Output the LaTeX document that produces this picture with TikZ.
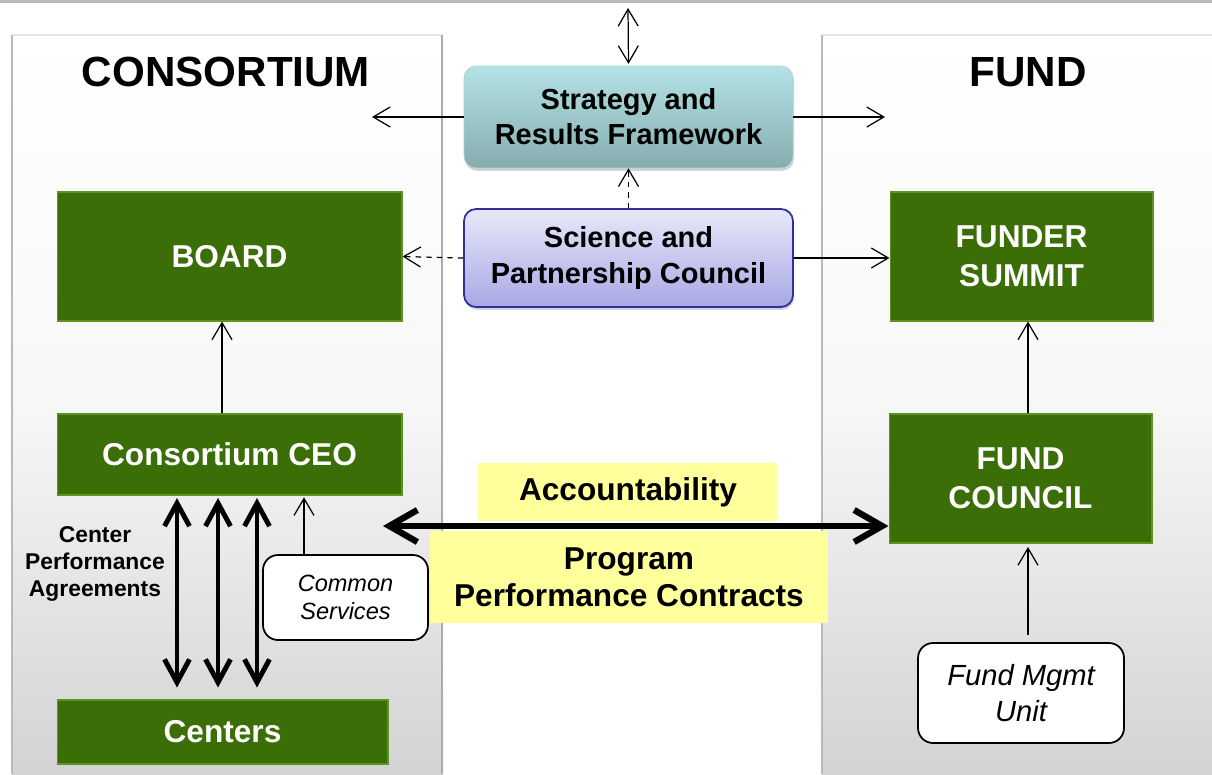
\documentclass[tikz,border=0pt]{standalone}
\usepackage{fontspec}
\setmainfont{Liberation Sans}
\usepackage{tikz}
\usetikzlibrary{arrows.meta,shadows}

\definecolor{boxgreen}{HTML}{3B6E07}
\definecolor{edgegreen}{HTML}{5C9422}
\definecolor{colgray}{HTML}{D3D3D3}
\definecolor{tealtop}{HTML}{B4E2E6}
\definecolor{tealbot}{HTML}{86ADAE}
\definecolor{lavtop}{HTML}{E8E8FA}
\definecolor{lavbot}{HTML}{A8A8E4}
\definecolor{lavedge}{HTML}{30309A}
\definecolor{notepad}{HTML}{FFFF9C}

\begin{document}
\begin{tikzpicture}[x=0.02cm,y=-0.02cm,
        >={Straight Barb[length=3.4mm,width=4mm]},
        greenbox/.style={fill=boxgreen,draw=edgegreen,line width=0.6pt,text=white,
            font=\bfseries\fontsize{18}{22}\selectfont,align=center,inner sep=0pt},
        colorbox/.style={rounded corners=0.24cm,align=center,inner sep=0pt,
            font=\bfseries\fontsize{16.5}{20}\selectfont,
            drop shadow={shadow xshift=0.6pt,shadow yshift=-1.6pt,fill=gray!70}},
        notebox/.style={fill=white,draw=black,line width=1pt,rounded corners=0.3cm,
            align=center,inner sep=0pt},
        yellowbox/.style={fill=notepad,align=center,inner sep=0pt,
            font=\bfseries\fontsize{18}{21}\selectfont},
        headline/.style={font=\bfseries\fontsize{24}{28}\selectfont},
        linkarrow/.style={line width=0.7pt},
        fatarrow/.style={line width=2.8pt,<->,>={Straight Barb[length=4.6mm,width=5mm]}},
        widearrow/.style={line width=3.6pt,<->,>={Straight Barb[length=5.6mm,width=6.4mm]}}]
    \useasboundingbox (0,0) rectangle (1212,774);

    % columns
    \fill[gray!55] (0,0) rectangle (1212,3);
    \shade[top color=white,bottom color=colgray,middle color=gray!6] (12,35) rectangle (443,774);
    \shade[top color=white,bottom color=colgray,middle color=gray!6] (822,35) rectangle (1212,774);
    \draw[gray!20,line width=1pt] (12,35) -- (443,35);
    \draw[gray!20,line width=1pt] (822,35) -- (1212,35);
    \draw[gray!55,line width=1pt] (12,35) -- (12,774);
    \draw[gray!65,line width=1.4pt] (442,35) -- (442,774);
    \draw[gray!55,line width=1pt] (822,35) -- (822,774);

    \node[headline] (conhead) at (226,72) {CONSORTIUM};
    \node[headline] (fundhead) at (1028,72) {FUND};

    % middle
    \node[colorbox,top color=tealtop,bottom color=tealbot,draw=tealtop!85!gray,
        minimum width=6.58cm,minimum height=2.04cm] (sf) at (628.5,117) {Strategy and\\Results Framework};
    \node[colorbox,top color=lavtop,bottom color=lavbot,draw=lavedge,line width=1pt,
        minimum width=6.58cm,minimum height=1.96cm] (sp) at (628.5,258) {Science and\\Partnership Council};
    \node[yellowbox,minimum width=6cm,minimum height=1.16cm] (acc) at (628,492) {Accountability};
    \node[yellowbox,minimum width=7.96cm,minimum height=1.84cm] (ppc) at (629,577) {Program\\Performance Contracts};

    % consortium side
    \node[greenbox,minimum width=6.9cm,minimum height=2.58cm] (board) at (229.5,256.5) {BOARD};
    \node[greenbox,minimum width=6.9cm,minimum height=1.62cm] (ceo) at (229.5,454.5) {Consortium CEO};
    \node[greenbox,minimum width=6.62cm,minimum height=1.28cm] (centers) at (222.5,732) {Centers};
    \node[notebox,minimum width=3.3cm,minimum height=1.7cm,
        font=\itshape\fontsize{13.4}{16}\selectfont] (cs) at (345.5,597.5) {Common\\Services};
    \node[align=center,font=\bfseries\fontsize{13}{15.5}\selectfont] (cpa) at (95,564)
        {Center\\Performance\\Agreements};

    % fund side
    \node[greenbox,minimum width=5.26cm,minimum height=2.58cm] (fs) at (1021.5,256.5) {FUNDER\\SUMMIT};
    \node[greenbox,minimum width=5.26cm,minimum height=2.58cm] (fc) at (1020.5,478.5) {FUND\\COUNCIL};
    \node[notebox,minimum width=4.12cm,minimum height=2cm,
        font=\itshape\fontsize{16.6}{20}\selectfont] (fmu) at (1021,693) {Fund Mgmt\\Unit};

    % links
    \coordinate (top) at (628,8);
    \coordinate (accleft) at (383,526);
    \draw[<->,linkarrow,shorten >=1pt] (top) -- (sf.north);
    \draw[->,linkarrow] (sf.west) -- (sf.west -| 372,0);
    \draw[->,linkarrow] (sf.east) -- (sf.east -| 885,0);
    \draw[->,linkarrow,dashed] (sp.north) -- (sf.south);
    \draw[->,linkarrow,dashed] (sp.west) -- (board.east);
    \draw[->,linkarrow] (sp.east) -- (sp.east -| fs.west);
    \draw[->,linkarrow] (ceo.north -| 222,0) -- (board.south -| 222,0);
    \draw[->,linkarrow] (fc.north -| 1028,0) -- (fs.south -| 1028,0);
    \draw[->,linkarrow,shorten <=4pt,shorten >=2pt] (fmu.north -| 1028,0) -- (fc.south -| 1028,0);
    \draw[->,linkarrow,shorten >=1pt] (cs.north -| 304,0) -- (ceo.south -| 304,0);
    \foreach \xa in {177,218,257}
        \draw[fatarrow,shorten <=0.05cm,shorten >=0.24cm] (ceo.south -| \xa,0) -- (centers.north -| \xa,0);
    \draw[widearrow] (accleft) -- (accleft -| fc.west);
\end{tikzpicture}
\end{document}
